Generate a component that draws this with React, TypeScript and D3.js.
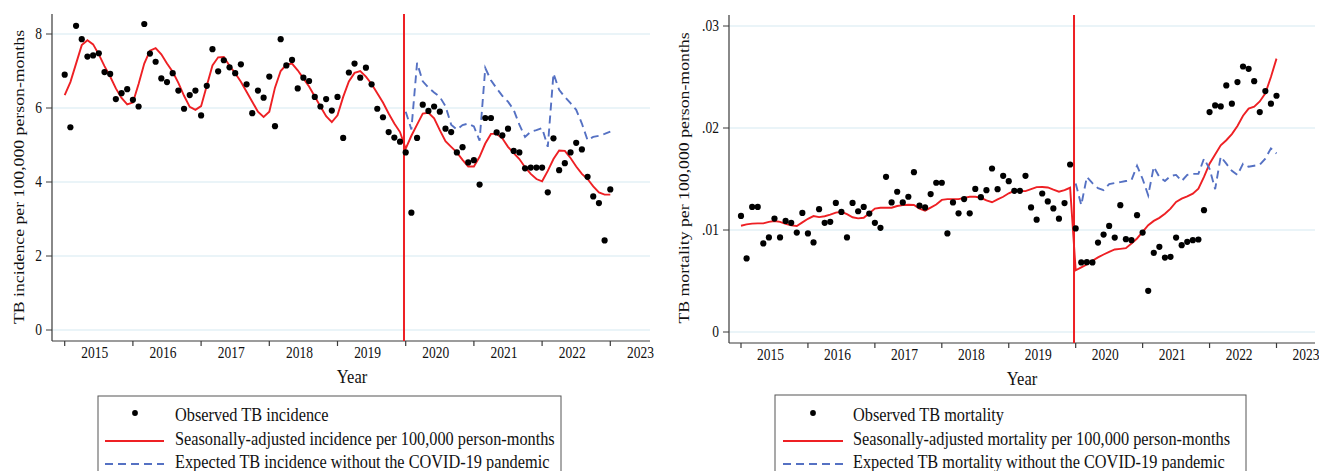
import React from 'react';
import * as d3 from 'd3';

const W = 1319;
const H = 471;
const SY = 1.2; // the reference is stretched vertically
const FONT = '"Liberation Serif","Times New Roman",Times,serif';

const yearLabels = ['2015', '2016', '2017', '2018', '2019', '2020', '2021', '2022', '2023'];
const covidIndex = 60; // Jan 2020 (month index from Jan 2015)

const incidenceObserved = [
  6.90, 5.48, 8.22, 7.86, 7.39, 7.42, 7.48, 6.97, 6.92, 6.24, 6.40, 6.51,
  6.22, 6.04, 8.27, 7.47, 7.25, 6.80, 6.70, 6.94, 6.47, 5.98, 6.35, 6.47,
  5.80, 6.60, 7.59, 6.99, 7.29, 7.10, 6.94, 7.18, 6.64, 5.86, 6.47, 6.28,
  6.85, 5.51, 7.86, 7.15, 7.30, 6.53, 6.82, 6.73, 6.30, 6.04, 6.24, 5.93,
  6.30, 5.19, 6.96, 7.20, 6.82, 7.09, 6.64, 5.98, 5.75, 5.35, 5.20, 5.09,
  4.80, 3.17, 5.19, 6.09, 5.92, 6.04, 5.90, 5.44, 5.35, 4.80, 4.94, 4.53,
  4.59, 3.93, 5.73, 5.73, 5.34, 5.26, 5.44, 4.84, 4.80, 4.37, 4.39, 4.39,
  4.39, 3.72, 5.18, 4.32, 4.51, 4.80, 5.06, 4.88, 4.14, 3.61, 3.43, 2.42,
  3.80,
];
const incidenceFitted = [
  6.35, 6.70, 7.20, 7.70, 7.83, 7.72, 7.45, 7.13, 6.85, 6.53, 6.27, 6.10,
  6.15, 6.65, 7.20, 7.55, 7.62, 7.45, 7.20, 6.98, 6.68, 6.33, 6.03, 5.95,
  6.05, 6.60, 7.15, 7.37, 7.38, 7.14, 6.94, 6.71, 6.44, 6.17, 5.90, 5.76,
  5.90, 6.55, 7.00, 7.17, 7.20, 7.02, 6.80, 6.58, 6.31, 6.04, 5.78, 5.62,
  5.80, 6.30, 6.72, 6.95, 7.00, 6.85, 6.65, 6.40, 6.15, 5.85, 5.58, 5.35,
  4.90, 5.25, 5.55, 5.85, 5.87, 5.72, 5.40, 5.10, 4.95, 4.80, 4.60, 4.42,
  4.42, 4.68, 5.04, 5.30, 5.30, 5.18, 4.95, 4.78, 4.62, 4.40, 4.22, 4.08,
  4.02, 4.30, 4.62, 4.85, 4.84, 4.65, 4.42, 4.22, 4.08, 3.88, 3.72, 3.66,
  3.66,
];
const incidenceExpected = [
  5.90, 5.42, 7.22, 6.72, 6.55, 6.42, 6.30, 6.05, 5.55, 5.42, 5.54, 5.58,
  5.50, 5.12, 7.08, 6.75, 6.53, 6.33, 6.17, 5.95, 5.55, 5.22, 5.36, 5.40,
  5.46, 4.95, 6.93, 6.49, 6.30, 6.13, 5.95, 5.58, 5.13, 5.22, 5.25, 5.30,
  5.36,
];

const mortalityObserved = [
  0.01138, 0.00721, 0.01226, 0.01226, 0.00868, 0.00927, 0.01112, 0.00927, 0.01089, 0.01070, 0.00975, 0.01167,
  0.00966, 0.00878, 0.01204, 0.01070, 0.01080, 0.01265, 0.01177, 0.00927, 0.01265, 0.01184, 0.01226, 0.01161,
  0.01070, 0.01021, 0.01521, 0.01270, 0.01375, 0.01270, 0.01326, 0.01567, 0.01238, 0.01221, 0.01352, 0.01463,
  0.01463, 0.00966, 0.01270, 0.01163, 0.01303, 0.01163, 0.01403, 0.01322, 0.01390, 0.01603, 0.01400, 0.01531,
  0.01479, 0.01384, 0.01384, 0.01531, 0.01221, 0.01101, 0.01358, 0.01280, 0.01212, 0.01111, 0.01264, 0.01642,
  0.01015, 0.00682, 0.00685, 0.00682, 0.00877, 0.00955, 0.01040, 0.00926, 0.01243, 0.00910, 0.00900, 0.01145,
  0.00975, 0.00404, 0.00776, 0.00835, 0.00730, 0.00737, 0.00926, 0.00851, 0.00884, 0.00900, 0.00907, 0.01194,
  0.02156, 0.02221, 0.02212, 0.02417, 0.02238, 0.02450, 0.02603, 0.02580, 0.02459, 0.02156, 0.02362, 0.02238,
  0.02316,
];
const mortalityFitted = [
  0.01042, 0.01055, 0.01062, 0.01065, 0.01065, 0.01080, 0.01088, 0.01080, 0.01060, 0.01045, 0.01039, 0.01075,
  0.01110, 0.01137, 0.01126, 0.01135, 0.01150, 0.01170, 0.01178, 0.01155, 0.01125, 0.01114, 0.01120, 0.01165,
  0.01210, 0.01218, 0.01218, 0.01218, 0.01235, 0.01244, 0.01248, 0.01245, 0.01210, 0.01190, 0.01220, 0.01250,
  0.01295, 0.01303, 0.01303, 0.01303, 0.01315, 0.01326, 0.01326, 0.01316, 0.01290, 0.01272, 0.01300, 0.01326,
  0.01360, 0.01384, 0.01382, 0.01381, 0.01400, 0.01420, 0.01422, 0.01417, 0.01395, 0.01375, 0.01390, 0.01414,
  0.00605, 0.00633, 0.00662, 0.00698, 0.00731, 0.00760, 0.00786, 0.00809, 0.00815, 0.00822, 0.00868, 0.00917,
  0.00981, 0.01047, 0.01089, 0.01119, 0.01160, 0.01210, 0.01275, 0.01308, 0.01330, 0.01357, 0.01406, 0.01520,
  0.01650, 0.01740, 0.01830, 0.01880, 0.01940, 0.02020, 0.02120, 0.02190, 0.02210, 0.02260, 0.02340, 0.02500,
  0.02680,
];
const mortalityExpected = [
  0.01455, 0.01245, 0.01520, 0.01460, 0.01410, 0.01390, 0.01450, 0.01460, 0.01470, 0.01480, 0.01490, 0.01630,
  0.01500, 0.01340, 0.01620, 0.01520, 0.01480, 0.01530, 0.01540, 0.01480, 0.01540, 0.01550, 0.01550, 0.01700,
  0.01600, 0.01400, 0.01720, 0.01650, 0.01580, 0.01540, 0.01650, 0.01620, 0.01630, 0.01640, 0.01700, 0.01800,
  0.01750,
];

const incidenceTicks = [0, 2, 4, 6, 8];
const mortalityTicks = [0, 0.01, 0.02, 0.03];

const RED = '#ee2024';
const BLUE = '#5571c3';
const GRID = '#d5eaf1';
const AXIS = '#3a3a3a';

type STextProps = {
  x: number; y: number; size: number; anchor?: string; rotate?: boolean; children: React.ReactNode;
};
function SText({ x, y, size, anchor = 'start', rotate = false, children }: STextProps) {
  return (
    <g transform={`translate(${x},${y}) scale(1,${SY})${rotate ? ' rotate(-90)' : ''}`}>
      <text textAnchor={anchor as any} fontSize={size} fontFamily={FONT} fill="#111">
        {children}
      </text>
    </g>
  );
}

type PanelProps = {
  observed: number[];
  fitted: number[];
  expected: number[];
  ticks: number[];
  fmt: (v: number) => string;
  yDomain: [number, number];
  yRange: [number, number];
  xRange: [number, number];
  axisX: number;
  plotRight: number;
  top: number;
  axisY: number;
  title: string;
  titleX: number;
  titleY: number;
  yearX: number;
  legend: string[];
  legendBox: [number, number, number];
  legendDotX: number;
  legendLine: [number, number];
  legendTextX: number;
};

function Panel(p: PanelProps) {
  const x = d3.scaleLinear().domain([0, 96]).range(p.xRange);
  const y = d3.scaleLinear().domain(p.yDomain).range(p.yRange);
  const line = d3.line<number>().x((_, i) => x(i)).y((d) => y(d));
  const lineExp = d3.line<number>().x((_, i) => x(i + covidIndex)).y((d) => y(d));
  const yearTicks = yearLabels.map((_, k) => k * 12);
  const covidX = x(covidIndex - 0.3);
  const [bx0, by0, bx1] = p.legendBox;
  return (
    <g>
      {p.ticks.map((t) => (
        <g key={t}>
          <line x1={p.axisX} x2={p.plotRight} y1={y(t)} y2={y(t)} stroke={GRID} strokeWidth={1.2} />
          <line x1={p.axisX - 6} x2={p.axisX} y1={y(t)} y2={y(t)} stroke={AXIS} strokeWidth={1} />
          <SText x={p.axisX - 10} y={y(t) + 5.2} size={13.5} anchor="end">{p.fmt(t)}</SText>
        </g>
      ))}
      <line x1={p.axisX} x2={p.axisX} y1={p.top} y2={p.axisY} stroke={AXIS} strokeWidth={1.2} />
      <line x1={p.axisX} x2={p.plotRight} y1={p.axisY} y2={p.axisY} stroke={AXIS} strokeWidth={1.2} />
      {yearTicks.map((m, k) => (
        <g key={m}>
          <line x1={x(m)} x2={x(m)} y1={p.axisY} y2={p.axisY + 5} stroke={AXIS} strokeWidth={1.2} />
          <SText x={x(m + 5.3)} y={p.axisY + 17} size={13.5} anchor="middle">{yearLabels[k]}</SText>
        </g>
      ))}
      <SText x={p.titleX} y={p.titleY} size={14.8} anchor="middle" rotate>{p.title}</SText>
      <SText x={p.yearX} y={p.axisY + 42} size={16.5} anchor="middle">Year</SText>

      <line x1={covidX} x2={covidX} y1={p.top} y2={p.axisY} stroke={RED} strokeWidth={2} />
      <path d={line(p.fitted) || ''} fill="none" stroke={RED} strokeWidth={1.9} />
      <path d={lineExp(p.expected) || ''} fill="none" stroke={BLUE} strokeWidth={1.9} strokeDasharray="8,5" />
      {p.observed.map((v, i) => (
        <circle key={i} cx={x(i)} cy={y(v)} r={3.1} fill="#000" />
      ))}

      <rect x={bx0} y={by0} width={bx1 - bx0} height={120} fill="none" stroke="#555" strokeWidth={1} />
      <circle cx={p.legendDotX} cy={413} r={2.9} fill="#000" />
      <line x1={p.legendLine[0]} x2={p.legendLine[1]} y1={441} y2={441} stroke={RED} strokeWidth={1.8} />
      <line x1={p.legendLine[0]} x2={p.legendLine[1]} y1={464} y2={464} stroke={BLUE} strokeWidth={1.8} strokeDasharray="8,5" />
      <SText x={p.legendTextX} y={421} size={16.3}>{p.legend[0]}</SText>
      <SText x={p.legendTextX} y={445} size={16.3}>{p.legend[1]}</SText>
      <SText x={p.legendTextX} y={468} size={16.3}>{p.legend[2]}</SText>
    </g>
  );
}

const fmtInc = (v: number) => String(v);
const fmtMort = (v: number) => (v === 0 ? '0' : d3.format('.2f')(v).replace(/^0/, ''));

export default function App() {
  return (
    <svg width={W} height={H} style={{ position: 'absolute', left: 0, top: 0, background: '#fff' }}>
      <rect width={W} height={H} fill="#fff" />
      <Panel
        observed={incidenceObserved}
        fitted={incidenceFitted}
        expected={incidenceExpected}
        ticks={incidenceTicks}
        fmt={fmtInc}
        yDomain={[0, 8]}
        yRange={[330, 34]}
        xRange={[64.7, 610.3]}
        axisX={52}
        plotRight={650}
        top={14}
        axisY={341}
        title="TB incidence per 100,000 person-months"
        titleX={24}
        titleY={177}
        yearX={352}
        legend={[
          'Observed TB incidence',
          'Seasonally-adjusted incidence per 100,000 person-months',
          'Expected TB incidence without the COVID-19 pandemic',
        ]}
        legendBox={[98, 396, 561]}
        legendDotX={135}
        legendLine={[105, 164]}
        legendTextX={175}
      />
      <Panel
        observed={mortalityObserved}
        fitted={mortalityFitted}
        expected={mortalityExpected}
        ticks={mortalityTicks}
        fmt={fmtMort}
        yDomain={[0, 0.03]}
        yRange={[332, 26]}
        xRange={[741, 1276.5]}
        axisX={729}
        plotRight={1315}
        top={15}
        axisY={343}
        title="TB mortality per 100,000 person-months"
        titleX={689}
        titleY={178}
        yearX={1022}
        legend={[
          'Observed TB mortality',
          'Seasonally-adjusted mortality per 100,000 person-months',
          'Expected TB mortality without the COVID-19 pandemic',
        ]}
        legendBox={[775, 395, 1246]}
        legendDotX={813}
        legendLine={[783, 843]}
        legendTextX={853}
      />
    </svg>
  );
}
